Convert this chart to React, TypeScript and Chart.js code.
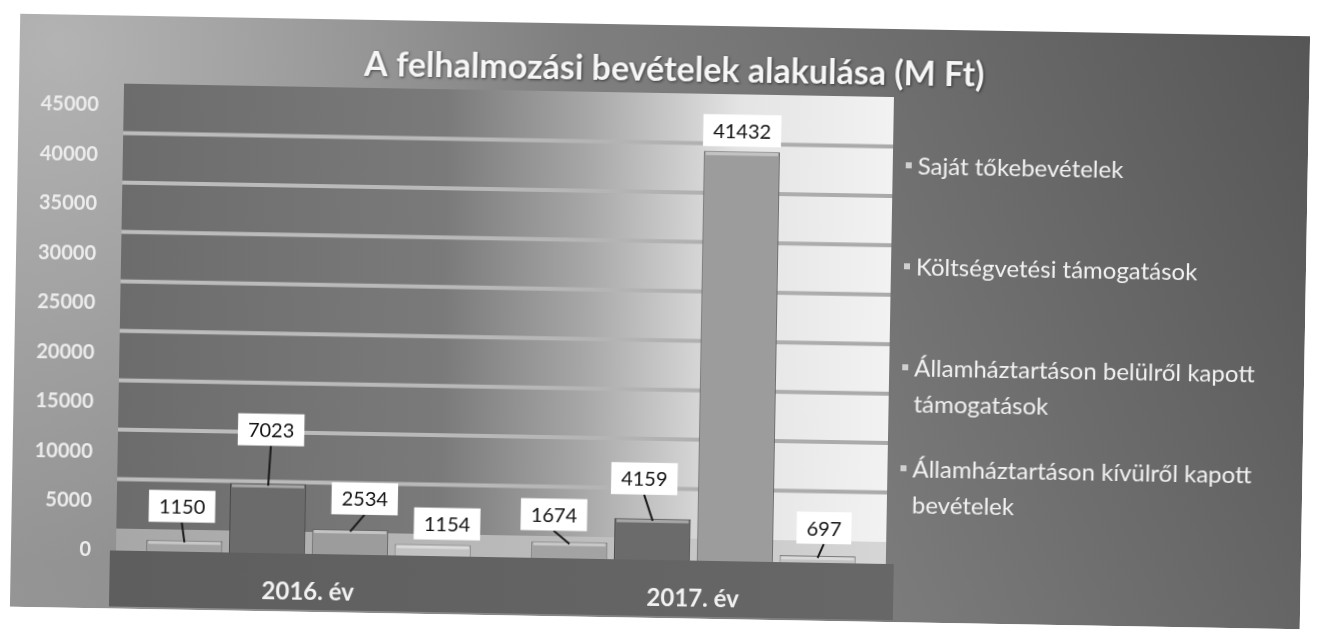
import React, { useEffect, useRef } from 'react';
import { Chart, registerables } from 'chart.js';

Chart.register(...registerables);

// ---------- data ----------
const categories = ['2016. év', '2017. év'];
const seriesNames = [
  'Saját tőkebevételek',
  'Költségvetési támogatások',
  'Államháztartáson belülről kapott támogatások',
  'Államháztartáson kívülről kapott bevételek',
];
const sajatTokebevetelek = [1150, 1674];
const koltsegvetesiTamogatasok = [7023, 4159];
const belulrolKapott = [2534, 41432];
const kivulrolKapott = [1154, 697];
const yTickValues = [0, 5000, 10000, 15000, 20000, 25000, 30000, 35000, 40000, 45000];
const chartTitle = 'A felhalmozási bevételek alakulása (M Ft)';

// ---------- layout / style ----------
const W = 1290;
const H = 593;
const FONT = 'Lato, "Open Sans", "DejaVu Sans", sans-serif';
const DEPTH = 22;
const barColors = ['#a3a3a3', '#6b6b6b', '#9c9c9c', '#c2c2c2'];
const barBorders = ['#666666', '#444444', '#666666', '#7a7a7a'];
// label box offsets relative to bar top centre [dx, dy] per dataset / category
const labelNudge = [
  [[-3, -34], [-16, -27]],
  [[2, -54], [-9, -40]],
  [[14, -31], [0, -21]],
  [[14, -21], [6, -28]],
];
const legendX = 888;
const legendTop = 137;
const legendStep = 101;
const legendLine = 36;
const legendWrap = 360;

const backgroundPlugin = {
  id: 'bgDecor',
  beforeDraw(chart: any) {
    const { ctx, chartArea: a, width, height } = chart;
    ctx.save();
    // frame
    let g = ctx.createLinearGradient(width, 0, 0, height);
    g.addColorStop(0, '#565656');
    g.addColorStop(0.45, '#7d7d7d');
    g.addColorStop(1, '#959595');
    ctx.fillStyle = g;
    ctx.fillRect(0, 0, width, height);
    const r = ctx.createRadialGradient(40, 30, 0, 40, 30, 520);
    r.addColorStop(0, 'rgba(205,205,205,0.6)');
    r.addColorStop(1, 'rgba(205,205,205,0)');
    ctx.fillStyle = r;
    ctx.fillRect(0, 0, width, height);

    // back wall
    const top = a.top - DEPTH;
    const floorBack = a.bottom - DEPTH;
    g = ctx.createLinearGradient(a.left, 0, a.right, 0);
    g.addColorStop(0, '#6c6c6c');
    g.addColorStop(0.42, '#7a7a7a');
    g.addColorStop(0.6, '#a6a6a6');
    g.addColorStop(0.8, '#e4e4e4');
    g.addColorStop(1, '#f2f2f2');
    ctx.fillStyle = g;
    ctx.fillRect(a.left, top, a.right - a.left, floorBack - top);

    // gridlines on back wall
    const ys = chart.scales.y;
    const gs = ctx.createLinearGradient(a.left, 0, a.right, 0);
    gs.addColorStop(0, '#bdbdbd');
    gs.addColorStop(0.5, '#b8b8b8');
    gs.addColorStop(1, '#a9a9a9');
    ctx.strokeStyle = gs;
    ctx.lineWidth = 4;
    ys.ticks.forEach((t: any) => {
      if (t.value <= ys.min || t.value >= ys.max) return;
      const y = ys.getPixelForValue(t.value) - DEPTH;
      ctx.beginPath();
      ctx.moveTo(a.left, y);
      ctx.lineTo(a.right, y);
      ctx.stroke();
    });

    // floor
    g = ctx.createLinearGradient(a.left, 0, a.right, 0);
    g.addColorStop(0, '#a7a7a7');
    g.addColorStop(0.6, '#bdbdbd');
    g.addColorStop(1, '#d6d6d6');
    ctx.fillStyle = g;
    ctx.fillRect(a.left, floorBack, a.right - a.left, a.bottom - floorBack);

    // dark front band under plot
    g = ctx.createLinearGradient(a.left, 0, a.right, 0);
    g.addColorStop(0, '#5e5e5e');
    g.addColorStop(1, '#676767');
    ctx.fillStyle = g;
    ctx.fillRect(a.left - 6, a.bottom, a.right - a.left + 14, 56);
    ctx.restore();
  },
};

const wrapText = (ctx: any, text: string, maxW: number) => {
  const words = text.split(' ');
  const lines: string[] = [];
  let cur = '';
  words.forEach((w) => {
    const t = cur ? cur + ' ' + w : w;
    if (ctx.measureText(t).width > maxW && cur) {
      lines.push(cur);
      cur = w;
    } else cur = t;
  });
  if (cur) lines.push(cur);
  return lines;
};

const labelPlugin = {
  id: 'barLabels',
  afterDatasetsDraw(chart: any) {
    const { ctx } = chart;
    ctx.save();
    chart.data.datasets.forEach((ds: any, i: number) => {
      const meta = chart.getDatasetMeta(i);
      meta.data.forEach((bar: any, j: number) => {
        const { x, y, width } = bar.getProps(['x', 'y', 'width'], true);
        // 3D-ish top highlight
        ctx.fillStyle = 'rgba(255,255,255,0.4)';
        ctx.fillRect(x - width / 2 + 2, y + 1, width - 4, 3);

        const [dx, dy] = labelNudge[i][j];
        const text = String(ds.data[j]);
        ctx.font = `20px ${FONT}`;
        const tw = ctx.measureText(text).width;
        const bw = tw + 20;
        const bh = 32;
        const cx = x + dx;
        const cy = y + dy;
        const boxBottom = cy + bh / 2;
        if (y - boxBottom > 5) {
          ctx.strokeStyle = '#1a1a1a';
          ctx.lineWidth = 2;
          ctx.beginPath();
          ctx.moveTo(cx, boxBottom);
          ctx.lineTo(x, y + 2);
          ctx.stroke();
        }
        ctx.fillStyle = '#ffffff';
        ctx.fillRect(cx - bw / 2, cy - bh / 2, bw, bh);
        ctx.fillStyle = '#111111';
        ctx.textAlign = 'center';
        ctx.textBaseline = 'middle';
        ctx.fillText(text, cx, cy + 1);
      });
    });
    ctx.restore();
  },
};

const titleLegendPlugin = {
  id: 'titleLegend',
  afterDraw(chart: any) {
    const { ctx } = chart;
    ctx.save();
    // title
    ctx.font = `bold 34px ${FONT}`;
    ctx.textAlign = 'center';
    ctx.textBaseline = 'middle';
    ctx.shadowColor = 'rgba(0,0,0,0.55)';
    ctx.shadowBlur = 3;
    ctx.shadowOffsetX = 1;
    ctx.shadowOffsetY = 1;
    ctx.fillStyle = '#f6f6f6';
    ctx.fillText(chartTitle, 655, 45);
    ctx.shadowColor = 'rgba(0,0,0,0)';

    // legend
    ctx.font = `24px ${FONT}`;
    ctx.textAlign = 'left';
    seriesNames.forEach((name, i) => {
      const y0 = legendTop + i * legendStep;
      ctx.fillStyle = '#cfcfcf';
      ctx.fillRect(legendX, y0 - 4, 6, 6);
      ctx.fillStyle = '#f2f2f2';
      const lines = wrapText(ctx, name, legendWrap);
      lines.forEach((ln, k) => ctx.fillText(ln, legendX + 12, y0 + k * legendLine));
    });
    ctx.restore();
  },
};

export default function App() {
  const ref = useRef<HTMLCanvasElement | null>(null);

  useEffect(() => {
    if (!ref.current) return;
    const seriesData = [sajatTokebevetelek, koltsegvetesiTamogatasok, belulrolKapott, kivulrolKapott];
    const chart = new Chart(ref.current, {
      type: 'bar',
      data: {
        labels: categories,
        datasets: seriesData.map((d, i) => ({
          label: seriesNames[i],
          data: d,
          backgroundColor: barColors[i],
          borderColor: barBorders[i],
          borderWidth: 1,
          borderSkipped: 'bottom',
          categoryPercentage: 0.86,
          barPercentage: 0.92,
        })),
      },
      options: {
        responsive: false,
        animation: false,
        devicePixelRatio: 1,
        layout: { padding: { top: 90, right: W - 875, left: 0, bottom: 0 } },
        plugins: {
          legend: { display: false },
          title: { display: false },
          tooltip: { enabled: false },
        },
        scales: {
          x: {
            grid: { display: false, drawTicks: false },
            border: { display: false },
            ticks: { color: '#f2f2f2', font: { family: FONT, size: 24, weight: 'bold' }, padding: 24 },
            afterFit(s: any) {
              s.height = 58;
            },
          },
          y: {
            min: 0,
            max: 45000,
            grid: { display: false, drawTicks: false },
            border: { display: false },
            ticks: {
              color: '#ececec',
              font: { family: FONT, size: 20, weight: 'bold' },
              padding: 25,
              callback: (v: any) => String(v),
            },
            afterBuildTicks(s: any) {
              s.ticks = yTickValues.map((v) => ({ value: v }));
            },
            afterFit(s: any) {
              s.width = 105;
            },
          },
        },
      } as any,
      plugins: [backgroundPlugin, labelPlugin, titleLegendPlugin],
    });
    return () => chart.destroy();
  }, []);

  return (
    <div
      style={{
        position: 'absolute',
        left: 15,
        top: 25,
        width: W,
        height: H,
        transform: 'rotate(1deg)',
        transformOrigin: '50% 50%',
      }}
    >
      <canvas ref={ref} width={W} height={H} style={{ display: 'block', width: W, height: H }} />
    </div>
  );
}
